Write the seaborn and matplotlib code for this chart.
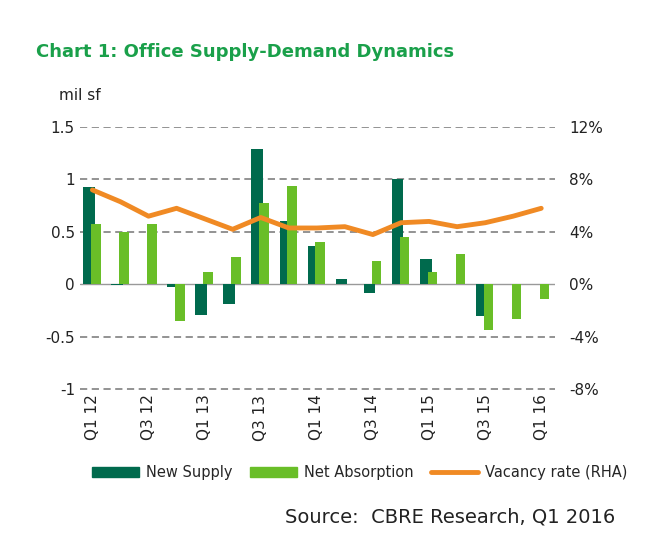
import numpy as np
import pandas as pd
import seaborn as sns
import matplotlib.pyplot as plt
from matplotlib.lines import Line2D
from matplotlib.patches import Patch

quarters = ["Q1 12", "Q2 12", "Q3 12", "Q4 12", "Q1 13", "Q2 13", "Q3 13", "Q4 13",
            "Q1 14", "Q2 14", "Q3 14", "Q4 14", "Q1 15", "Q2 15", "Q3 15", "Q4 15", "Q1 16"]
new_supply = [0.93, -0.01, 0.0, -0.02, -0.29, -0.19, 1.29, 0.60, 0.37, 0.05, -0.08, 1.00,
              0.24, 0.0, -0.30, 0.0, 0.0]
net_absorption = [0.58, 0.50, 0.58, -0.35, 0.12, 0.26, 0.78, 0.94, 0.40, 0.0, 0.22, 0.45,
                  0.12, 0.29, -0.43, -0.33, -0.14]
vacancy = [7.2, 6.3, 5.2, 5.8, 5.0, 4.2, 5.1, 4.3, 4.3, 4.4, 3.8, 4.7, 4.8, 4.4, 4.7, 5.2, 5.8]

dark = "#006a4d"
light = "#69be28"
orange = "#f08a24"

sns.set_style("white")
fig = plt.figure(figsize=(6.54, 5.39), dpi=100)
ax = fig.add_axes([0.122, 0.277, 0.727, 0.488])

x = np.arange(len(quarters))
ax.bar(x - 0.12, new_supply, width=0.42, color=dark, linewidth=0, zorder=2)
ax.bar(x + 0.12, net_absorption, width=0.34, color=light, linewidth=0, zorder=3)
ax.axhline(0, color="#999999", lw=1, zorder=1)
for v in [1.5, 1, 0.5, -0.5, -1]:
    ax.axhline(v, color="#8a8a8a", lw=1.3, ls=(0, (4, 2.5)), zorder=0)

ax.set_ylim(-1.003, 1.503)
ax.set_yticks([1.5, 1, 0.5, 0, -0.5, -1])
ax.set_yticklabels(["1.5", "1", "0.5", "0", "-0.5", "-1"])
ax.set_xlim(-0.45, len(quarters) - 0.5)
ax.set_xticks(x[::2])
ax.set_xticklabels(quarters[::2], rotation=90)
ax.tick_params(axis="both", labelsize=11, length=0, colors="#222222")
for s in ax.spines.values():
    s.set_visible(False)

ax2 = ax.twinx()
df = pd.DataFrame({"x": x, "vac": vacancy})
sns.lineplot(data=df, x="x", y="vac", ax=ax2, color=orange, lw=3.5,
             solid_capstyle="round", solid_joinstyle="round")
ax2.set_ylim(-8.02, 12.02)
ax2.set_yticks([12, 8, 4, 0, -4, -8])
ax2.set_yticklabels(["12%", "8%", "4%", "0%", "-4%", "-8%"])
ax2.set_xlabel("")
ax2.set_ylabel("")
ax2.tick_params(axis="y", labelsize=11, length=0, colors="#222222", pad=10)
for s in ax2.spines.values():
    s.set_visible(False)

fig.text(0.055, 0.895, "Chart 1: Office Supply-Demand Dynamics", color="#1aa04a",
         fontsize=13, fontweight="bold")
fig.text(0.09, 0.815, "mil sf", fontsize=11, color="#222222")

handles = [Patch(color=dark), Patch(color=light), Line2D([0], [0], color=orange, lw=3.5)]
fig.legend(handles, ["New Supply", "Net Absorption", "Vacancy rate (RHA)"],
           loc="lower center", bbox_to_anchor=(0.55, 0.085), ncol=3, frameon=False,
           fontsize=10.5, handlelength=3.2, handletextpad=0.5, columnspacing=1.2)
fig.text(0.94, 0.03, "Source:  CBRE Research, Q1 2016", ha="right", fontsize=14,
         color="#222222")

fig.savefig("out.png", dpi=100)
